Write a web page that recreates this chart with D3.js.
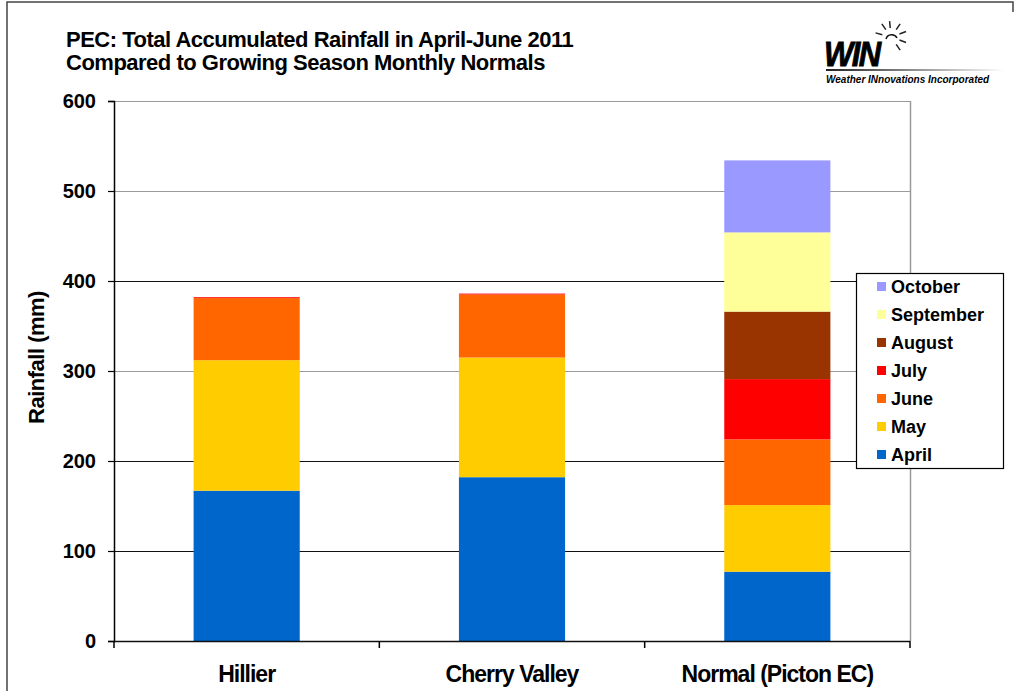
<!DOCTYPE html>
<html>
<head>
<meta charset="utf-8">
<script src="https://cdn.jsdelivr.net/npm/d3@7"></script>
<style>
  body { margin: 0; background: #fff; }
  svg { display: block; font-family: Arial, "Liberation Sans", sans-serif; }
</style>
</head>
<body>
<div id="wrapper"></div>
<script>
const sites = ['Hillier', 'Cherry Valley', 'Normal (Picton EC)']
const months = ['April', 'May', 'June', 'July', 'August', 'September', 'October']
const hillier = [167, 145, 69, 1, 0, 0, 0]
const cherryValley = [182, 133, 70, 1, 0, 0, 0]
const normalPicton = [77, 74, 73, 67, 75, 88, 80]
const monthColors = ['#0066CC', '#FFCC00', '#FF6600', '#FF0000', '#993300', '#FFFF99', '#9999FF']
const yTicks = [0, 100, 200, 300, 400, 500, 600]

const titleLines = [
    'PEC: Total Accumulated Rainfall in April-June 2011',
    'Compared to Growing Season Monthly Normals'
]

function drawChart() {
    let dimensions = {
        width: 1016,
        height: 691,
        margin: { top: 101, right: 106, bottom: 50, left: 114 }
    }
    dimensions.boundedWidth = dimensions.width - dimensions.margin.left - dimensions.margin.right
    dimensions.boundedHeight = dimensions.height - dimensions.margin.top - dimensions.margin.bottom

    const svg = d3.select('#wrapper').append('svg')
        .attr('width', dimensions.width)
        .attr('height', dimensions.height)

    // outer frame (left + top edges as in the screenshot)
    svg.append('path')
        .attr('d', `M7,${dimensions.height} L7,2 L1013,2 L1013,12`)
        .attr('fill', 'none')
        .attr('stroke', '#444')
        .attr('stroke-width', 1.5)

    // title
    svg.append('g').selectAll('text')
        .data(titleLines)
        .enter().append('text')
        .attr('x', 66)
        .attr('y', (d, i) => 47 + i * 23)
        .attr('font-size', 22)
        .attr('font-weight', 'bold')
        .attr('letter-spacing', -0.5)
        .text(d => d)

    // rows for stacking
    const table = sites.map((s, i) => {
        const vals = [hillier, cherryValley, normalPicton][i]
        const row = { site: s }
        months.forEach((m, j) => row[m] = vals[j])
        return row
    })
    const series = d3.stack().keys(months)(table)

    const bounds = svg.append('g')
        .attr('transform', `translate(${dimensions.margin.left}, ${dimensions.margin.top})`)

    const xScale = d3.scaleBand()
        .domain(sites)
        .range([0, dimensions.boundedWidth])
        .paddingInner(0.6)
        .paddingOuter(0.3)

    const yScale = d3.scaleLinear()
        .domain([0, 600])
        .range([dimensions.boundedHeight, 0])

    const colorScale = d3.scaleOrdinal().domain(months).range(monthColors)

    // gridlines (some render lighter in the original)
    const lightLines = [300, 500, 600]
    bounds.append('g').selectAll('line')
        .data(yTicks.filter(d => d > 0))
        .enter().append('line')
        .attr('x1', 0)
        .attr('x2', dimensions.boundedWidth)
        .attr('y1', d => Math.round(yScale(d)) + 0.5)
        .attr('y2', d => Math.round(yScale(d)) + 0.5)
        .attr('stroke', d => lightLines.includes(d) ? '#9a9a9a' : '#111')
        .attr('stroke-width', 1.2)

    // right border of plot area
    bounds.append('line')
        .attr('x1', dimensions.boundedWidth + 0.5)
        .attr('x2', dimensions.boundedWidth + 0.5)
        .attr('y1', yScale(600))
        .attr('y2', yScale(0))
        .attr('stroke', '#9a9a9a')
        .attr('stroke-width', 1.5)

    // stacked bars
    bounds.append('g').selectAll('g')
        .data(series)
        .enter().append('g')
        .attr('fill', d => colorScale(d.key))
        .selectAll('rect')
        .data(d => d)
        .enter().append('rect')
        .attr('x', d => xScale(d.data.site))
        .attr('y', d => yScale(d[1]))
        .attr('width', xScale.bandwidth())
        .attr('height', d => yScale(d[0]) - yScale(d[1]))

    // y axis
    const yAxis = d3.axisLeft(yScale).tickValues(yTicks).tickSize(6).tickPadding(12)
    const yAxisG = bounds.append('g').call(yAxis)
    yAxisG.select('.domain').attr('stroke', '#000').attr('stroke-width', 1.5)
    yAxisG.selectAll('.tick line').attr('stroke', '#000').attr('stroke-width', 1.2)
    yAxisG.selectAll('.tick text')
        .attr('font-size', 20)
        .attr('font-weight', 'bold')
        .attr('font-family', 'Arial, "Liberation Sans", sans-serif')
        .attr('fill', '#000')

    // x axis with category boundary ticks
    const boundaries = d3.range(sites.length + 1).map(i => i * (dimensions.boundedWidth / sites.length))
    const xAxisG = bounds.append('g')
        .attr('transform', `translate(0, ${dimensions.boundedHeight})`)
    xAxisG.append('line')
        .attr('x1', 0).attr('x2', dimensions.boundedWidth)
        .attr('y1', 0.5).attr('y2', 0.5)
        .attr('stroke', '#111').attr('stroke-width', 1.5)
    xAxisG.selectAll('.bt')
        .data(boundaries)
        .enter().append('line')
        .attr('class', 'bt')
        .attr('x1', d => d).attr('x2', d => d)
        .attr('y1', 0).attr('y2', 7)
        .attr('stroke', '#000').attr('stroke-width', 1.5)
    xAxisG.selectAll('.lbl')
        .data(sites)
        .enter().append('text')
        .attr('class', 'lbl')
        .attr('x', d => xScale(d) + xScale.bandwidth() / 2)
        .attr('y', 41)
        .attr('text-anchor', 'middle')
        .attr('font-size', 23)
        .attr('font-weight', 'bold')
        .attr('letter-spacing', -1)
        .text(d => d)

    // y axis title
    svg.append('text')
        .attr('transform', `translate(44, ${dimensions.margin.top + yScale(315)}) rotate(-90)`)
        .attr('text-anchor', 'middle')
        .attr('font-size', 22)
        .attr('font-weight', 'bold')
        .attr('letter-spacing', -0.5)
        .text('Rainfall (mm)')

    // legend (reverse order, top = October)
    const legend = svg.append('g').attr('transform', 'translate(856, 273)')
    legend.append('rect')
        .attr('x', 0.5).attr('y', 0.5)
        .attr('width', 147).attr('height', 195)
        .attr('fill', '#fff')
        .attr('stroke', '#000')
        .attr('stroke-width', 1.2)
    const items = legend.selectAll('.item')
        .data(months.slice().reverse())
        .enter().append('g')
        .attr('class', 'item')
        .attr('transform', (d, i) => `translate(21, ${14 + i * 28})`)
    items.append('rect')
        .attr('x', 0).attr('y', -5)
        .attr('width', 9).attr('height', 9)
        .attr('fill', d => colorScale(d))
    items.append('text')
        .attr('x', 14).attr('y', 6)
        .attr('font-size', 18)
        .attr('font-weight', 'bold')
        .text(d => d)

    // WIN logo
    const logo = svg.append('g')
    logo.append('text')
        .attr('x', 824).attr('y', 66)
        .attr('font-size', 31)
        .attr('font-weight', 900)
        .attr('font-style', 'italic')
        .attr('letter-spacing', -1.5)
        .attr('stroke', '#000')
        .attr('stroke-width', 0.8)
        .attr('transform', 'translate(0,-10) scale(1,1.15)')
        .text('WIN')
    const grad = svg.append('defs').append('linearGradient').attr('id', 'fade')
    grad.append('stop').attr('offset', '0%').attr('stop-color', '#222')
    grad.append('stop').attr('offset', '100%').attr('stop-color', '#fff')
    logo.append('rect')
        .attr('x', 826).attr('y', 69).attr('width', 178).attr('height', 2)
        .attr('fill', 'url(#fade)')
    logo.append('text')
        .attr('x', 826).attr('y', 83)
        .attr('font-size', 10)
        .attr('font-weight', 'bold')
        .attr('font-style', 'italic')
        .text('Weather INnovations Incorporated')
    const sun = { x: 891, y: 37 }
    logo.append('path')
        .attr('d', `M${sun.x - 5},${sun.y + 2} A6,6 0 0 1 ${sun.x + 6},${sun.y + 1}`)
        .attr('fill', 'none').attr('stroke', '#111').attr('stroke-width', 1.5)
    const rayAngles = [-165, -125, -95, -55, -20, 20, 55]
    logo.selectAll('.ray')
        .data(rayAngles)
        .enter().append('line')
        .attr('x1', a => sun.x + 9 * Math.cos(a * Math.PI / 180))
        .attr('y1', a => sun.y + 9 * Math.sin(a * Math.PI / 180))
        .attr('x2', a => sun.x + 16 * Math.cos(a * Math.PI / 180))
        .attr('y2', a => sun.y + 16 * Math.sin(a * Math.PI / 180))
        .attr('stroke', '#222').attr('stroke-width', 1.5)
}

drawChart()
</script>
</body>
</html>
